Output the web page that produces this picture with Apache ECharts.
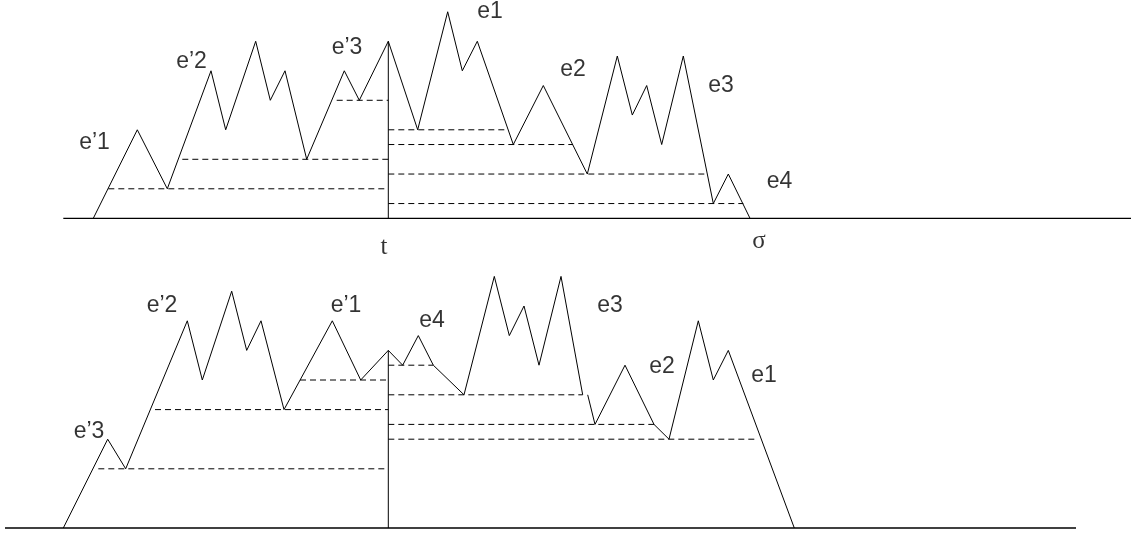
<!DOCTYPE html>
<html>
<head>
<meta charset="utf-8">
<script src="https://cdn.jsdelivr.net/npm/echarts@6/dist/echarts.min.js"></script>
<style>html,body{margin:0;padding:0;background:#fff}#c{width:1131px;height:533px}</style>
</head>
<body>
<div id="c"></div>
<script>
// ---- Top excursion (time, height) ----
var topPathX = [93.3, 137.3, 167.3, 211, 225.7, 255.7, 270.3, 285, 306.7, 344.3, 359.3, 388.3, 417.7, 447.7, 462.3, 477.3, 513.3, 543.3, 587.3, 617.3, 632.3, 646.7, 661.7, 683.3, 713.3, 728.3, 750];
var topPathY = [0, 6, 2, 10, 6, 12, 8, 10, 4, 10, 8, 12, 6, 14, 10, 12, 5, 9, 3, 11, 7, 9, 5, 11, 1, 3, 0];
// dashed levels: start, end, level
var topDashStart = [108.3, 182.3, 336.7, 388.3, 388.3, 388.3, 388.3];
var topDashEnd   = [388.3, 388.3, 388.3, 505, 573, 705, 743.3];
var topDashLevel = [2, 4, 8, 6, 5, 3, 1];
var topCut = [388.3, 12];           // vertical line at t
var topBase = [63.3, 1131];
var topLabels = ["e\u20191", "e\u20192", "e\u20193", "e1", "e2", "e3", "e4"];
var topLabelX = [94.5, 191.5, 347, 490, 573, 721, 779.5];
var topLabelY = [5.1, 10.6, 11.6, 14.0, 10.1, 9.0, 2.5];
var axisMarks = ["t", "\u03c3"];
var axisMarkX = [384, 759];
var axisMarkY = [-1.95, -1.6];

// ---- Bottom excursion ----
var botPathX = [63.3, 107.7, 125.7, 187.3, 202.3, 231.7, 246.7, 261, 284, 332.3, 360.7, 388.3, 402.7, 418.3, 433.3, 464, 494.3, 509.3, 524, 539, 561, 582.7, null, 587.7, 595, 625, 654, 669, 698.3, 713.3, 728.3, 794.3];
var botPathY = [0, 6, 4, 14, 10, 16, 12, 14, 8, 14, 10, 12, 11, 13, 11, 9, 17, 13, 15, 11, 17, 9, null, 9, 7, 11, 7, 6, 14, 10, 12, 0];
var botDashStart = [98.3, 155, 300, 388.3, 388.3, 388.3, 388.3];
var botDashEnd   = [388.3, 388.3, 388.3, 433.3, 582.7, 654, 756.7];
var botDashLevel = [4, 8, 10, 11, 9, 7, 6];
var botCut = [388.3, 12];
var botBase = [5, 1076];
var botLabels = ["e\u20192", "e\u20191", "e\u20193", "e4", "e3", "e2", "e1"];
var botLabelX = [162, 346, 89, 432, 610, 662, 764];
var botLabelY = [15.0, 15.0, 6.5, 14.0, 15.0, 10.9, 10.3];

function pts(xs, ys) { return xs.map(function (x, i) { return x === null ? null : [x, ys[i]]; }); }

var series = [];
function addPanel(idx, px, py, dS, dE, dL, cut, base, lx, ly, ln) {
  var solid = { color: '#000', width: 1 };
  series.push({ type: 'line', xAxisIndex: idx, yAxisIndex: idx, data: pts(px, py), symbol: 'none', lineStyle: solid, connectNulls: false, clip: false, animation: false, silent: true });
  series.push({ type: 'line', xAxisIndex: idx, yAxisIndex: idx, data: [[base[0], 0], [base[1], 0]], symbol: 'none', lineStyle: { color: '#000', width: 1.3 }, clip: false, animation: false, silent: true });
  series.push({ type: 'line', xAxisIndex: idx, yAxisIndex: idx, data: [[cut[0], 0], [cut[0], cut[1]]], symbol: 'none', lineStyle: solid, clip: false, animation: false, silent: true });
  for (var i = 0; i < dS.length; i++) {
    series.push({ type: 'line', xAxisIndex: idx, yAxisIndex: idx, data: [[dS[i], dL[i]], [dE[i], dL[i]]], symbol: 'none', lineStyle: { color: '#000', width: 1, type: [6, 4] }, clip: false, animation: false, silent: true });
  }
  series.push({
    type: 'scatter', xAxisIndex: idx, yAxisIndex: idx, symbolSize: 0, clip: false, animation: false, silent: true,
    data: lx.map(function (x, i) { return { value: [x, ly[i]], name: ln[i] }; }),
    label: { show: true, position: 'inside', formatter: '{b}', color: '#000', fontFamily: 'Liberation Sans, Arial, sans-serif', fontSize: 23 }
  });
}
addPanel(0, topPathX, topPathY, topDashStart, topDashEnd, topDashLevel, topCut, topBase, topLabelX, topLabelY, topLabels);
addPanel(1, botPathX, botPathY, botDashStart, botDashEnd, botDashLevel, botCut, botBase, botLabelX, botLabelY, botLabels);
series.push({
  type: 'scatter', xAxisIndex: 0, yAxisIndex: 0, symbolSize: 0, clip: false, animation: false, silent: true,
  data: axisMarkX.map(function (x, i) { return { value: [x, axisMarkY[i]], name: axisMarks[i] }; }),
  label: { show: true, position: 'inside', formatter: '{b}', color: '#000', fontFamily: 'Liberation Serif, Times New Roman, serif', fontSize: 25 }
});

var hidden = { show: false };
var chart = echarts.init(document.getElementById('c'), null, { renderer: 'canvas' });
chart.setOption({
  backgroundColor: '#fff',
  animation: false,
  grid: [
    { left: 0, right: 0, top: 4.4, bottom: 533 - 218.3 },
    { left: 0, right: 0, top: 528 - 18 * 14.8, bottom: 5 }
  ],
  xAxis: [
    { type: 'value', gridIndex: 0, min: 0, max: 1131, show: false, splitLine: hidden },
    { type: 'value', gridIndex: 1, min: 0, max: 1131, show: false, splitLine: hidden }
  ],
  yAxis: [
    { type: 'value', gridIndex: 0, min: 0, max: 14.5, show: false, splitLine: hidden },
    { type: 'value', gridIndex: 1, min: 0, max: 18, show: false, splitLine: hidden }
  ],
  series: series
});
</script>
</body>
</html>
